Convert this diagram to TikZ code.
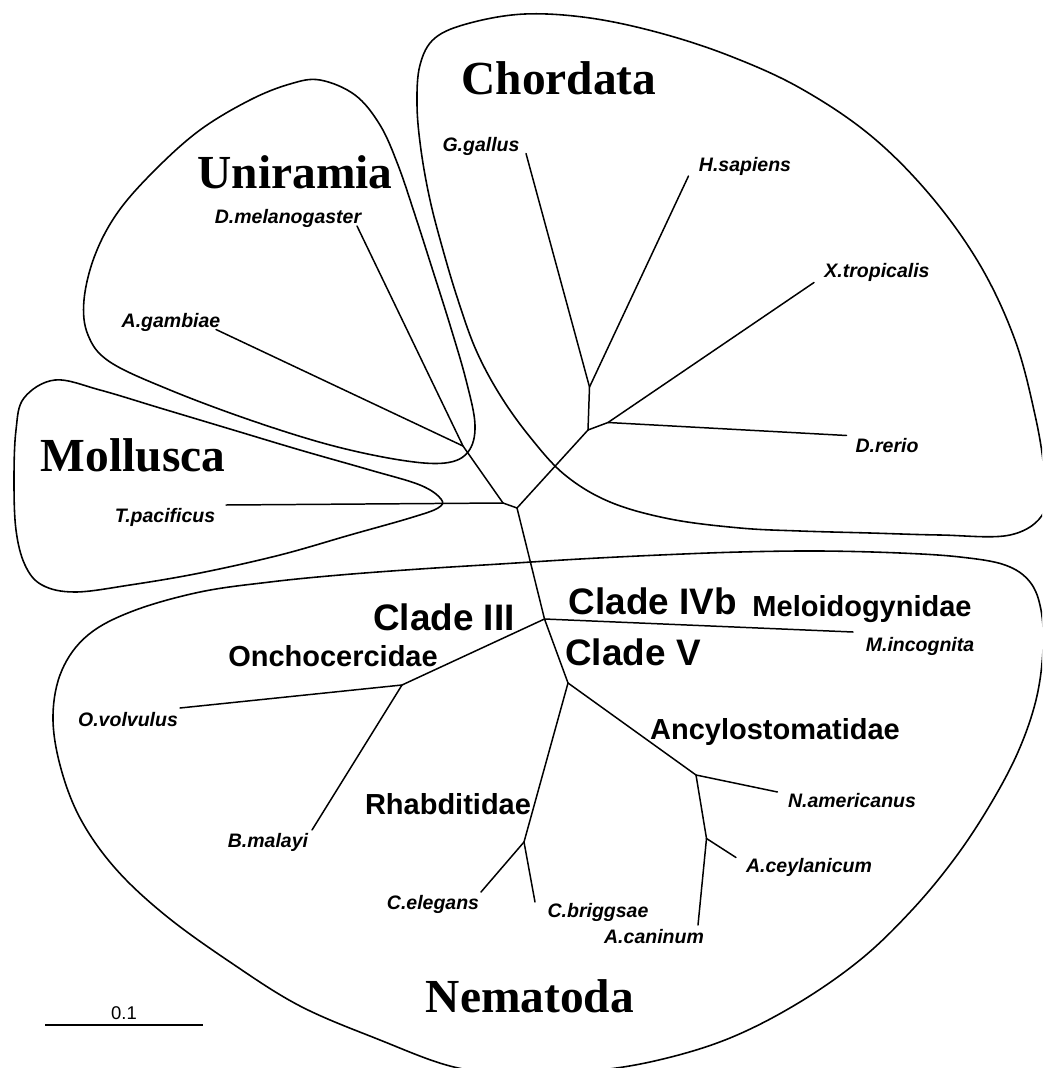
\documentclass[tikz,border=0pt]{standalone}
\usepackage{fontspec}
\setmainfont{Liberation Serif}
\setsansfont{Liberation Sans}
\tikzset{
  branch/.style={black, line width=0.85pt, line cap=round},
  hull/.style={black, line width=0.9pt},
  taxon/.style={font=\sffamily\bfseries\itshape\fontsize{11.1}{13}\selectfont, anchor=base, inner sep=0pt},
  clade/.style={font=\sffamily\bfseries\fontsize{21}{25}\selectfont, anchor=base, inner sep=0pt},
  family/.style={font=\sffamily\bfseries\fontsize{16.5}{20}\selectfont, anchor=base, inner sep=0pt},
  phylum/.style={font=\rmfamily\bfseries\fontsize{27}{32}\selectfont, anchor=base, inner sep=0pt},
  scalelbl/.style={font=\sffamily\fontsize{10.5}{12}\selectfont, anchor=base, inner sep=0pt}
}
\begin{document}
\begin{tikzpicture}[x=0.02cm, y=-0.02cm]
\useasboundingbox (0,0) rectangle (1042,1068);
\clip (0,0) rectangle (1042,1068);
\coordinate (root) at (517,508);
\coordinate (moll) at (503,503);
\coordinate (unir) at (463,446);
\coordinate (chor) at (588,430);
\coordinate (gahs) at (589.5,387);
\coordinate (xtdr) at (608,422.5);
\coordinate (nema) at (544.5,619);
\coordinate (onch) at (402,685);
\coordinate (cl5) at (568,683);
\coordinate (rhab) at (524,842);
\coordinate (ancy) at (696,775);
\coordinate (acey) at (706.5,838.5);
\coordinate (tDmel) at (357,226);
\coordinate (tAgam) at (216,329.5);
\coordinate (tTpac) at (226,505);
\coordinate (tGgal) at (526,153.5);
\coordinate (tHsap) at (688.5,176);
\coordinate (tXtro) at (814,282.5);
\coordinate (tDrer) at (846.5,435.5);
\coordinate (tMinc) at (853,632);
\coordinate (tOvol) at (180,708);
\coordinate (tBmal) at (312,830);
\coordinate (tCele) at (481,892);
\coordinate (tCbri) at (535,902);
\coordinate (tName) at (777.5,792);
\coordinate (tAcey) at (736,857.5);
\coordinate (tAcan) at (698,925);
\foreach \a/\b in {unir/tDmel, unir/tAgam, unir/moll, moll/tTpac, moll/root,
  root/chor, chor/gahs, gahs/tGgal, gahs/tHsap, chor/xtdr, xtdr/tXtro, xtdr/tDrer,
  root/nema, nema/tMinc, nema/onch, onch/tOvol, onch/tBmal, nema/cl5,
  cl5/rhab, rhab/tCele, rhab/tCbri, cl5/ancy, ancy/tName, ancy/acey,
  acey/tAcey, acey/tAcan}
  \draw [branch] (\a) -- (\b);
\draw [hull] plot [smooth cycle, tension=0.6] coordinates {
  (1044,512) (1010,535) (940,535) (870,533) (800,531) (740,528) (670,519)
  (610,502) (565,475) (530,437) (500,395) (476,350) (458,300) (443,250)
  (430,200) (421,150) (417,105) (420,65) (435,38) (470,23) (525,14)
  (590,18) (660,33) (730,56) (800,88) (870,135) (930,195) (980,265)
  (1015,340) (1035,415) (1044,470)};
\draw [hull] plot [smooth cycle, tension=0.6] coordinates {
  (320,80) (355,95) (380,125) (398,165) (415,215) (432,268) (450,325)
  (466,380) (475,425) (468,452) (445,463) (400,460) (330,445) (250,420)
  (170,390) (110,362) (88,335) (84,300) (95,255) (118,212) (155,170)
  (200,130) (250,100) (290,84)};
\draw [hull] plot [smooth cycle, tension=0.6] coordinates {
  (55,380) (100,390) (160,408) (230,429) (300,450) (370,470) (420,485)
  (441,499) (438,508) (410,518) (350,535) (280,555) (200,573) (130,585)
  (75,592) (42,585) (25,565) (16,530) (14,480) (16,430) (24,398)};
\draw [hull] plot [smooth cycle, tension=0.6] coordinates {
  (133,611) (200,592) (270,582) (340,575) (420,569) (500,564) (580,559)
  (660,555) (740,552) (820,551) (900,553) (960,557) (1005,565) (1030,582)
  (1041,610) (1043,650) (1036,700) (1018,752) (990,805) (955,858)
  (912,910) (860,960) (795,1005) (725,1040) (650,1062) (580,1072)
  (510,1074) (450,1066) (380,1040) (300,1006) (230,962) (165,915)
  (115,868) (80,818) (60,765) (53,715) (62,670) (88,635)};
\node [phylum] (nChor) at (559,94) {Chordata};
\node [phylum] (nUnir) at (295,188) {Uniramia};
\node [phylum] (nMoll) at (133,471) {Mollusca};
\node [phylum] (nNema) at (530,1012) {Nematoda};
\node [taxon] (lGgal) at (481,151.5) {G.gallus};
\node [taxon] (lHsap) at (745,172) {H.sapiens};
\node [taxon] (lXtro) at (877,277) {X.tropicalis};
\node [taxon] (lDrer) at (887,452) {D.rerio};
\node [taxon] (lDmel) at (288,223) {D.melanogaster};
\node [taxon] (lAgam) at (171,327) {A.gambiae};
\node [taxon] (lTpac) at (165,522) {T.pacificus};
\node [taxon] (lOvol) at (128,726) {O.volvulus};
\node [taxon] (lBmal) at (268,847) {B.malayi};
\node [taxon] (lCele) at (433,909) {C.elegans};
\node [taxon] (lCbri) at (598,917) {C.briggsae};
\node [taxon] (lAcan) at (654,943) {A.caninum};
\node [taxon] (lAcey) at (809,872) {A.ceylanicum};
\node [taxon] (lName) at (852,807) {N.americanus};
\node [taxon] (lMinc) at (920,651) {M.incognita};
\node [clade] (cIII) at (444,630) {Clade III};
\node [clade] (cIVb) at (653,614) {Clade IVb};
\node [clade] (cV) at (633,665) {Clade V};
\node [family] (fOnch) at (333,666) {Onchocercidae};
\node [family] (fMelo) at (862,616) {Meloidogynidae};
\node [family] (fAncy) at (775,739) {Ancylostomatidae};
\node [family] (fRhab) at (448,814) {Rhabditidae};
\coordinate (sbL) at (45,1025);
\coordinate (sbR) at (203,1025);
\draw [black, line width=1.4pt] (sbL) -- (sbR);
\node [scalelbl] (sbT) at (124,1019) {0.1};
\end{tikzpicture}
\end{document}
